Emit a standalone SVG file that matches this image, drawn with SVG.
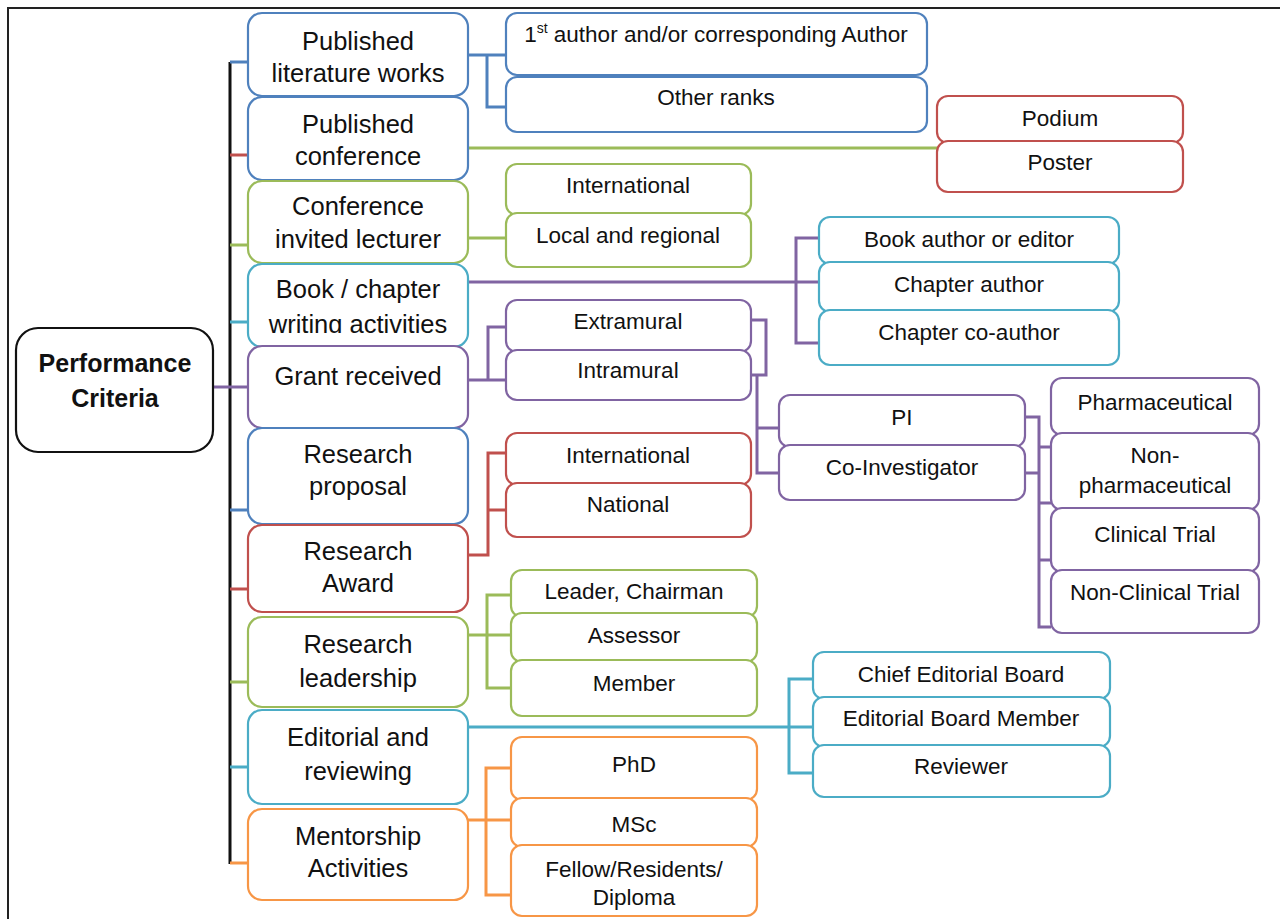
<svg xmlns="http://www.w3.org/2000/svg" width="1280" height="919" viewBox="0 0 1280 919">
<style>
.frame{fill:none;stroke:#222;stroke-width:2}
.b{fill:#fff;stroke-width:2.2}
.blue{stroke:#4f81bd}.red{stroke:#c0504d}.green{stroke:#9bbb59}.teal{stroke:#4bacc6}.purple{stroke:#8064a2}.orange{stroke:#f79646}.black{stroke:#111}
.c{fill:none;stroke-width:3;stroke-linejoin:miter}
.m{font-family:"Liberation Sans",Arial,sans-serif;font-size:25.5px;fill:#111;text-anchor:middle}
.s{font-family:"Liberation Sans",Arial,sans-serif;font-size:22.5px;fill:#111;text-anchor:middle}
.pc{font-family:"Liberation Sans",Arial,sans-serif;font-size:25px;font-weight:bold;fill:#111;text-anchor:middle}
</style>
<defs>
<clipPath id="clipBook"><rect x="248" y="264" width="220" height="69"/></clipPath>
</defs>
<rect class="frame" x="8" y="8" width="1300" height="940"/>
<g id="connectors">
<path class="c black" d="M230,62 V864"/>
<path class="c purple" d="M213,387 H230"/>
<path class="c blue" d="M230,62 H248"/>
<path class="c red" d="M230,155 H248"/>
<path class="c green" d="M230,245 H248"/>
<path class="c teal" d="M230,322 H248"/>
<path class="c purple" d="M230,387 H248"/>
<path class="c blue" d="M230,510 H248"/>
<path class="c red" d="M230,589 H248"/>
<path class="c green" d="M230,682 H248"/>
<path class="c teal" d="M230,767 H248"/>
<path class="c orange" d="M230,863 H248"/>
<path class="c blue" d="M468,55 H506 M487,55 V107 H506"/>
<path class="c green" d="M468,148 H938"/>
<path class="c green" d="M468,238 H506"/>
<path class="c purple" d="M468,282 H819 M819,238 H796 V343 H819"/>
<path class="c purple" d="M468,380 H506 M506,327 H488 V380"/>
<path class="c purple" d="M751,320 H766 V375 H751 M757,375 V473 H779 M757,428 H779"/>
<path class="c purple" d="M1025,417 H1039 V627 H1051 M1025,473 H1039 M1039,447 H1051 M1039,503 H1051 M1039,560 H1051"/>
<path class="c red" d="M468,555 H488 V453 H506 M488,510 H506"/>
<path class="c green" d="M468,635 H511 M511,595 H487 V688 H511"/>
<path class="c teal" d="M468,727 H813 M813,679 H789 V773 H813"/>
<path class="c orange" d="M468,820 H511 M511,768 H486 V895 H511"/>
</g>
<g id="performance-criteria">
<rect class="b black" x="16" y="328" width="197" height="124" rx="22"/>
<text class="pc" x="115" y="372">Performance</text>
<text class="pc" x="115" y="407">Criteria</text>
</g>
<g id="published-literature">
<rect class="b blue" x="248" y="13" width="220" height="83" rx="14"/>
<text class="m" x="358" y="50">Published</text>
<text class="m" x="358" y="82">literature works</text>
</g>
<g id="published-conference">
<rect class="b blue" x="248" y="97" width="220" height="83" rx="14"/>
<text class="m" x="358" y="133">Published</text>
<text class="m" x="358" y="165">conference</text>
</g>
<g id="conference-invited">
<rect class="b green" x="248" y="181" width="220" height="82" rx="14"/>
<text class="m" x="358" y="215">Conference</text>
<text class="m" x="358" y="248">invited lecturer</text>
</g>
<g id="book-chapter">
<rect class="b teal" x="248" y="264" width="220" height="83" rx="14"/>
<text class="m" x="358" y="298">Book / chapter</text>
<text class="m" x="358" y="333" clip-path="url(#clipBook)">writing activities</text>
</g>
<g id="grant-received">
<rect class="b purple" x="248" y="346" width="220" height="82" rx="14"/>
<text class="m" x="358" y="385">Grant received</text>
</g>
<g id="research-proposal">
<rect class="b blue" x="248" y="428" width="220" height="96" rx="14"/>
<text class="m" x="358" y="463">Research</text>
<text class="m" x="358" y="495">proposal</text>
</g>
<g id="research-award">
<rect class="b red" x="248" y="525" width="220" height="87" rx="14"/>
<text class="m" x="358" y="560">Research</text>
<text class="m" x="358" y="592">Award</text>
</g>
<g id="research-leadership">
<rect class="b green" x="248" y="617" width="220" height="90" rx="14"/>
<text class="m" x="358" y="653">Research</text>
<text class="m" x="358" y="687">leadership</text>
</g>
<g id="editorial-reviewing">
<rect class="b teal" x="248" y="710" width="220" height="94" rx="14"/>
<text class="m" x="358" y="746">Editorial and</text>
<text class="m" x="358" y="780">reviewing</text>
</g>
<g id="mentorship">
<rect class="b orange" x="248" y="809" width="220" height="91" rx="14"/>
<text class="m" x="358" y="845">Mentorship</text>
<text class="m" x="358" y="877">Activities</text>
</g>
<g id="first-author">
<rect class="b blue" x="506" y="13" width="421" height="62" rx="11"/>
<text class="s" x="716" y="42">1<tspan font-size="14" dy="-9">st</tspan><tspan dy="9"> author and/or corresponding Author</tspan></text>
</g>
<g id="other-ranks">
<rect class="b blue" x="506" y="77" width="421" height="55" rx="11"/>
<text class="s" x="716" y="105">Other ranks</text>
</g>
<g id="podium">
<rect class="b red" x="937" y="96" width="246" height="47" rx="11"/>
<text class="s" x="1060" y="126">Podium</text>
</g>
<g id="poster">
<rect class="b red" x="937" y="141" width="246" height="51" rx="11"/>
<text class="s" x="1060" y="170">Poster</text>
</g>
<g id="invited-international">
<rect class="b green" x="506" y="164" width="245" height="51" rx="11"/>
<text class="s" x="628" y="193">International</text>
</g>
<g id="invited-local">
<rect class="b green" x="506" y="213" width="245" height="54" rx="11"/>
<text class="s" x="628" y="243">Local and regional</text>
</g>
<g id="book-author">
<rect class="b teal" x="819" y="217" width="300" height="47" rx="11"/>
<text class="s" x="969" y="247">Book author or editor</text>
</g>
<g id="chapter-author">
<rect class="b teal" x="819" y="262" width="300" height="50" rx="11"/>
<text class="s" x="969" y="292">Chapter author</text>
</g>
<g id="chapter-coauthor">
<rect class="b teal" x="819" y="310" width="300" height="55" rx="11"/>
<text class="s" x="969" y="340">Chapter co-author</text>
</g>
<g id="extramural">
<rect class="b purple" x="506" y="300" width="245" height="52" rx="11"/>
<text class="s" x="628" y="329">Extramural</text>
</g>
<g id="intramural">
<rect class="b purple" x="506" y="350" width="245" height="50" rx="11"/>
<text class="s" x="628" y="378">Intramural</text>
</g>
<g id="pi">
<rect class="b purple" x="779" y="395" width="246" height="52" rx="11"/>
<text class="s" x="902" y="425">PI</text>
</g>
<g id="co-investigator">
<rect class="b purple" x="779" y="445" width="246" height="55" rx="11"/>
<text class="s" x="902" y="475">Co-Investigator</text>
</g>
<g id="pharmaceutical">
<rect class="b purple" x="1051" y="378" width="208" height="57" rx="11"/>
<text class="s" x="1155" y="410">Pharmaceutical</text>
</g>
<g id="non-pharmaceutical">
<rect class="b purple" x="1051" y="433" width="208" height="77" rx="11"/>
<text class="s" x="1155" y="463">Non-</text>
<text class="s" x="1155" y="493">pharmaceutical</text>
</g>
<g id="clinical-trial">
<rect class="b purple" x="1051" y="508" width="208" height="64" rx="11"/>
<text class="s" x="1155" y="542">Clinical Trial</text>
</g>
<g id="non-clinical-trial">
<rect class="b purple" x="1051" y="570" width="208" height="63" rx="11"/>
<text class="s" x="1155" y="600">Non-Clinical Trial</text>
</g>
<g id="award-international">
<rect class="b red" x="506" y="433" width="245" height="52" rx="11"/>
<text class="s" x="628" y="463">International</text>
</g>
<g id="award-national">
<rect class="b red" x="506" y="483" width="245" height="54" rx="11"/>
<text class="s" x="628" y="512">National</text>
</g>
<g id="leader-chairman">
<rect class="b green" x="511" y="570" width="246" height="47" rx="11"/>
<text class="s" x="634" y="599">Leader, Chairman</text>
</g>
<g id="assessor">
<rect class="b green" x="511" y="613" width="246" height="49" rx="11"/>
<text class="s" x="634" y="643">Assessor</text>
</g>
<g id="member">
<rect class="b green" x="511" y="660" width="246" height="56" rx="11"/>
<text class="s" x="634" y="691">Member</text>
</g>
<g id="chief-editorial">
<rect class="b teal" x="813" y="652" width="297" height="47" rx="11"/>
<text class="s" x="961" y="682">Chief Editorial Board</text>
</g>
<g id="editorial-member">
<rect class="b teal" x="813" y="697" width="297" height="50" rx="11"/>
<text class="s" x="961" y="726">Editorial Board Member</text>
</g>
<g id="reviewer">
<rect class="b teal" x="813" y="745" width="297" height="52" rx="11"/>
<text class="s" x="961" y="774">Reviewer</text>
</g>
<g id="phd">
<rect class="b orange" x="511" y="737" width="246" height="63" rx="11"/>
<text class="s" x="634" y="772">PhD</text>
</g>
<g id="msc">
<rect class="b orange" x="511" y="798" width="246" height="49" rx="11"/>
<text class="s" x="634" y="832">MSc</text>
</g>
<g id="fellow">
<rect class="b orange" x="511" y="845" width="246" height="71" rx="11"/>
<text class="s" x="634" y="877">Fellow/Residents/</text>
<text class="s" x="634" y="905">Diploma</text>
</g>
</svg>
